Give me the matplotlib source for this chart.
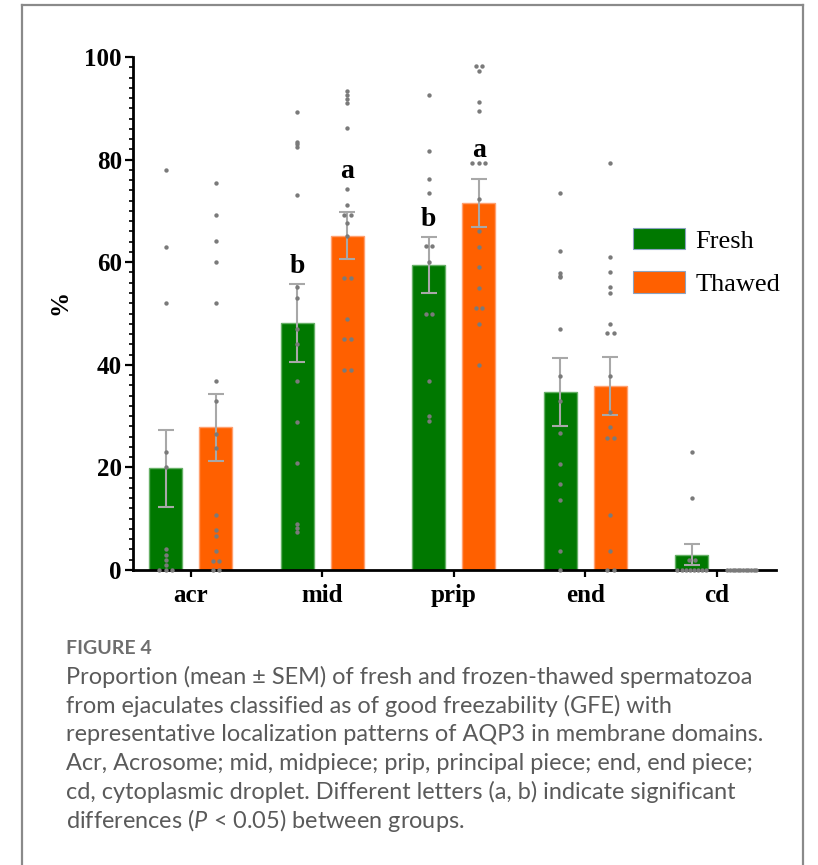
import numpy as np
import matplotlib
matplotlib.use("Agg")
import matplotlib.pyplot as plt
from matplotlib.patches import Patch
from matplotlib.lines import Line2D
from matplotlib.ticker import MultipleLocator, FixedLocator

# ---- data -------------------------------------------------------------
categories = ["acr", "mid", "prip", "end", "cd"]
groups = ["Fresh", "Thawed"]

fresh_mean = [19.8, 48.2, 59.5, 34.7, 3.0]
fresh_sem = [7.5, 7.6, 5.5, 6.6, 2.1]
thawed_mean = [27.8, 65.2, 71.6, 35.9, 0.0]
thawed_sem = [6.5, 4.5, 4.7, 5.7, 0.0]

fresh_points = [
    [78, 63, 52, 23, 20, 4, 3, 2, 1, 0, 0, 0],
    [89.2, 83.5, 83, 82.5, 73.1, 55.1, 53.1, 47, 44, 36.9, 28.8, 20.9, 8.9, 8.2, 7.5],
    [92.5, 81.6, 76.2, 73.5, 63.1, 63.1, 60.1, 50, 50, 36.9, 30, 29],
    [73.5, 62.2, 57.8, 57.4, 57.1, 46.9, 37.9, 32.9, 26.8, 20.7, 16.7, 13.7, 3.7, 0],
    [23, 14, 2, 2, 0, 0, 0, 0, 0, 0, 0, 0],
]
thawed_points = [
    [75.4, 69.2, 64.1, 60.1, 52.1, 36.9, 32.9, 26.6, 23.8, 10.8, 7.7, 6.7, 3.7, 1.7, 1.7, 0, 0],
    [93.3, 92.6, 91.8, 91.0, 86.2, 74.3, 71.2, 69.2, 69.2, 67.7, 65.2, 57, 57, 49.0, 45, 45, 38.9, 38.9],
    [98.3, 98.3, 97.3, 91.2, 89.4, 79.3, 79.3, 79.3, 72.3, 66, 63, 59.1, 55, 51, 51, 48, 40],
    [79.4, 61.1, 58, 55.1, 54, 47.9, 46.2, 46.2, 37.9, 30.8, 27.8, 25.8, 25.8, 10.8, 3.7, 0, 0],
    [0, 0, 0, 0, 0, 0, 0, 0, 0, 0, 0, 0],
]

# significance letters: (category index, group index, letter, baseline value)
letter_cat = [1, 1, 2, 2]
letter_grp = [0, 1, 0, 1]
letter_txt = ["b", "a", "b", "a"]
letter_val = [57.9, 76.4, 67.0, 80.5]

y_ticks = [0, 20, 40, 60, 80, 100]

caption_title = "FIGURE 4"
caption_lines = [
    "Proportion (mean \u00b1 SEM) of fresh and frozen-thawed spermatozoa",
    "from ejaculates classified as of good freezability (GFE) with",
    "representative localization patterns of AQP3 in membrane domains.",
    "Acr, Acrosome; mid, midpiece; prip, principal piece; end, end piece;",
    "cd, cytoplasmic droplet. Different letters (a, b) indicate significant",
    "differences ($P$ < 0.05) between groups.",
]

# ---- style --------------------------------------------------------------
W, H = 818, 865
SERIF = "Liberation Serif"
CAP_FONT = "Lato"
plt.rcParams["mathtext.fontset"] = "custom"
plt.rcParams["mathtext.rm"] = CAP_FONT
plt.rcParams["mathtext.it"] = CAP_FONT + ":italic"

fill_colors = ["#007800", "#ff6000"]
edge_colors = ["#66b066", "#ffa070"]
dot_color = "#7a7a7a"
err_color = "#a8a8a8"

fig = plt.figure(figsize=(W / 100, H / 100), dpi=100)
fig.patch.set_facecolor("white")

def px(x, y):
    return x / W, 1 - y / H

ax_l, ax_r, ax_t, ax_b = 133, 776, 57, 570
ax = fig.add_axes([ax_l / W, 1 - ax_b / H, (ax_r - ax_l) / W, (ax_b - ax_t) / H])

xs = np.arange(len(categories))
bar_w = 0.25
offs = [-0.19, 0.19]
means = [fresh_mean, thawed_mean]
sems = [fresh_sem, thawed_sem]
points = [fresh_points, thawed_points]

for g in range(2):
    xpos = xs + offs[g]
    ax.bar(xpos, means[g], width=bar_w, color=fill_colors[g],
           edgecolor=edge_colors[g], linewidth=1.0, zorder=2, label=groups[g])
    ax.errorbar(xpos, means[g], yerr=sems[g], fmt="none", ecolor=err_color,
                elinewidth=1.5, capsize=6, capthick=1.5, zorder=3)
    # individual values; equal values are spread sideways
    for i, vals in enumerate(points[g]):
        vals = np.asarray(vals, dtype=float)
        dx = np.zeros_like(vals)
        for v in np.unique(vals):
            idx = np.where(vals == v)[0]
            m = len(idx)
            if m > 1:
                step = min(0.05, 0.22 / (m - 1))
                dx[idx] = (np.arange(m) - (m - 1) / 2) * step
        ax.scatter(xpos[i] + dx, vals, s=10, color=dot_color, linewidths=0,
                   zorder=4, clip_on=False)

for c, g, t, v in zip(letter_cat, letter_grp, letter_txt, letter_val):
    ax.text(xs[c] + offs[g], v, t, ha="center", va="baseline",
            fontsize=20, fontweight="bold", family=SERIF, color="black")

ax.set_xlim(-0.44, 4.45)
ax.set_ylim(0, 100)
ax.set_xticks(xs)
ax.set_xticklabels(categories, fontsize=18, fontweight="bold", family=SERIF)
ax.yaxis.set_major_locator(FixedLocator(y_ticks))
ax.yaxis.set_minor_locator(MultipleLocator(2))
ax.set_yticklabels([str(t) for t in y_ticks], fontsize=18, fontweight="bold", family=SERIF)
for s in ["top", "right"]:
    ax.spines[s].set_visible(False)
for s in ["left", "bottom"]:
    ax.spines[s].set_linewidth(2.0)
    ax.spines[s].set_color("black")
ax.tick_params(axis="y", which="major", length=6, width=1.6, pad=2, color="black")
ax.tick_params(axis="y", which="minor", length=3, width=1.2, color="black")
ax.tick_params(axis="x", which="major", length=5, width=1.6, pad=5, color="black")
ax.set_facecolor("none")

fig.text(*px(60, 302), "%", rotation=90, ha="center", va="center",
         fontsize=18, fontweight="bold", family=SERIF)

handles = [Patch(facecolor=fill_colors[g], edgecolor="#8aa2c0", linewidth=0.8)
           for g in range(2)]
fig.legend(handles, groups, loc="upper left", bbox_to_anchor=px(633, 228),
           bbox_transform=fig.transFigure, frameon=False,
           prop={"family": SERIF, "size": 19}, handlelength=1.97,
           handleheight=0.87, handletextpad=0.4, labelspacing=0.70,
           borderpad=0, borderaxespad=0)

# caption
fig.text(*px(66, 649), caption_title, ha="left", va="center", fontsize=14,
         fontweight="bold", family=CAP_FONT, color="#6e6e6e")
for k, line in enumerate(caption_lines):
    fig.text(*px(66, 677 + 28.8 * k), line, ha="left", va="center",
             fontsize=16.9, family=CAP_FONT, color="#5a5a5a")

# frame around the panel
frame_kw = dict(color="#8a8a8a", linewidth=1.6, transform=fig.transFigure)
fx0, fy0 = px(22, 5)
fx1, fy1 = px(803, 865)
fig.add_artist(Line2D([fx0, fx1], [fy0, fy0], **frame_kw))
fig.add_artist(Line2D([fx0, fx0], [fy0, fy1], **frame_kw))
fig.add_artist(Line2D([fx1, fx1], [fy0, fy1], **frame_kw))

fig.savefig("out.png", dpi=100, facecolor="white")
